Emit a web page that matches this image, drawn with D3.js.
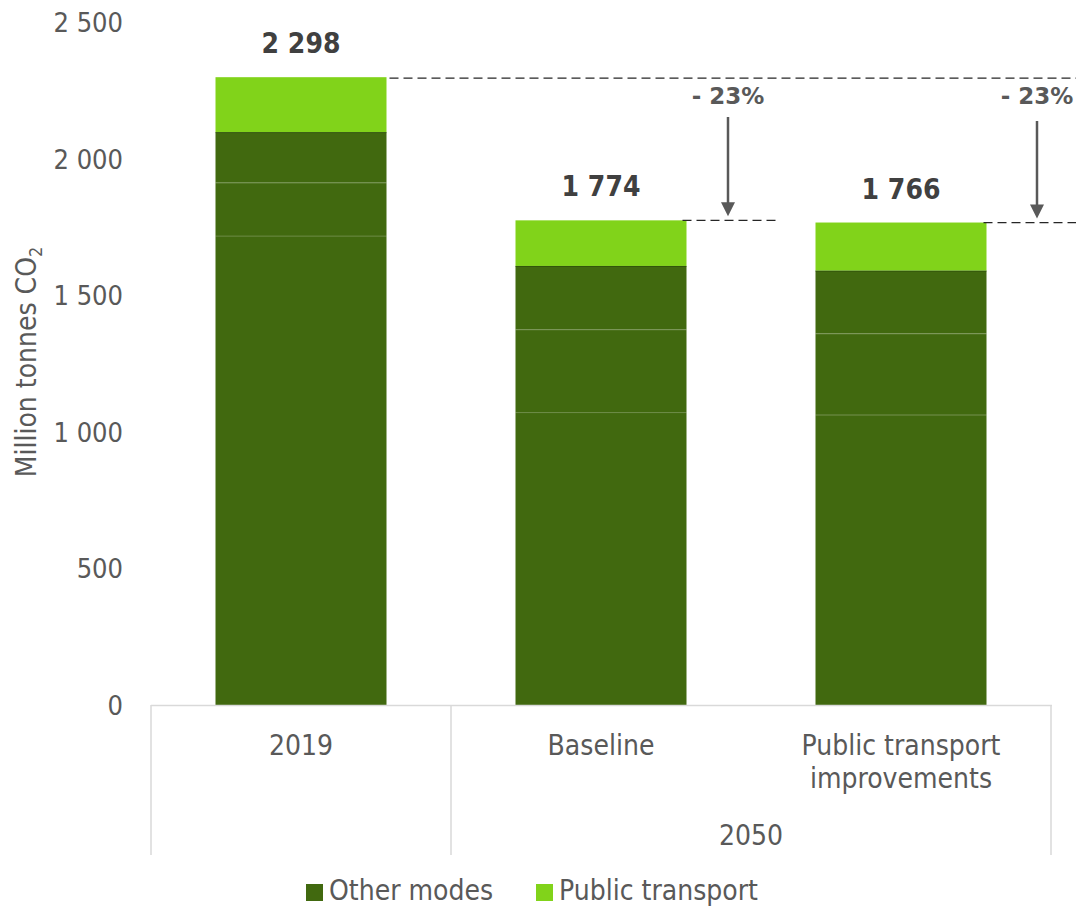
<!DOCTYPE html>
<html>
<head>
<meta charset="utf-8">
<script src="https://cdn.jsdelivr.net/npm/d3@7"></script>
<style>
  html, body { margin: 0; padding: 0; background: #fff; }
  svg { display: block; }
  text { font-family: "DejaVu Sans Condensed", "DejaVu Sans", sans-serif; font-stretch: condensed; }
</style>
</head>
<body>
<svg id="chart" width="1076" height="907"></svg>
<script>
// ---- data ----
const categories = ["2019", "Baseline", "Public transport improvements"];
const categoryLines = [["2019"], ["Baseline"], ["Public transport", "improvements"]];
const groupLabel = "2050";
const otherModesA = [1717, 1072, 1062];
const otherModesB = [195, 303, 298];
const otherModesC = [185, 232, 230];
const publicTransport = [201, 167, 176];
const totals = [2298, 1774, 1766];
const totalLabels = ["2 298", "1 774", "1 766"];
const changeLabels = ["- 23%", "- 23%"];
const yTicks = [0, 500, 1000, 1500, 2000, 2500];
const legendLabels = ["Other modes", "Public transport"];

const darkGreen = "#41690f";
const lightGreen = "#81d31a";
const textGrey = "#595959";

const svg = d3.select("#chart");
const fmt = v => d3.format(",")(v).replace(/,/g, " ");

const y = d3.scaleLinear().domain([0, 2500]).range([705, 22]);
const x = d3.scaleBand().domain(categories).range([151, 1051]).paddingInner(0.43).paddingOuter(0.215);

// stacked data
const rows = categories.map((c, i) => ({
  cat: c, a: otherModesA[i], b: otherModesB[i], c: otherModesC[i], pt: publicTransport[i]
}));
const stack = d3.stack().keys(["a", "b", "c", "pt"]);
const series = stack(rows);
const colorOf = k => k === "pt" ? lightGreen : darkGreen;

series.forEach(s => {
  svg.append("g").selectAll("rect").data(s).join("rect")
    .attr("x", d => x(d.data.cat))
    .attr("y", d => y(d[1]))
    .attr("width", x.bandwidth())
    .attr("height", d => y(d[0]) - y(d[1]))
    .attr("fill", colorOf(s.key));
});
// faint separators between segments
series.slice(1).forEach(s => {
  svg.append("g").selectAll("line").data(s).join("line")
    .attr("x1", d => x(d.data.cat)).attr("x2", d => x(d.data.cat) + x.bandwidth())
    .attr("y1", d => y(d[0]) + 0.5).attr("y2", d => y(d[0]) + 0.5)
    .attr("stroke", s.key === "pt" ? "rgba(40,70,10,0.6)" : "rgba(255,255,255,0.16)")
    .attr("stroke-width", 1);
});

// y axis (labels only)
const yAxis = d3.axisLeft(y).tickValues(yTicks).tickFormat(fmt).tickSize(0).tickPadding(0);
const yg = svg.append("g").attr("transform", "translate(123,0)").call(yAxis);
yg.select(".domain").remove();
yg.selectAll("text").attr("fill", textGrey).style("font-size", "27px")
  .style("font-family", '"DejaVu Sans Condensed", "DejaVu Sans", sans-serif').attr("dy", "0.35em");

// y title
const yt = svg.append("text")
  .attr("transform", "translate(36,362) rotate(-90)")
  .attr("text-anchor", "middle")
  .attr("fill", textGrey)
  .style("font-size", "28px");
yt.append("tspan").text("Million tonnes CO");
yt.append("tspan").text("2").attr("dy", "6").style("font-size", "18px");

// x axis frame
const axisColor = "#d9d9d9";
svg.append("line").attr("x1", 151).attr("x2", 1052).attr("y1", y(0) + 0.5).attr("y2", y(0) + 0.5)
  .attr("stroke", axisColor).attr("stroke-width", 1.5);
const sepXs = [x.range()[0], x(categories[1]) - (x.step() - x.bandwidth()) / 2, x.range()[1]];
sepXs.forEach(sx => {
  svg.append("line").attr("x1", sx).attr("x2", sx).attr("y1", y(0)).attr("y2", 855)
    .attr("stroke", axisColor).attr("stroke-width", 1.5);
});

// category labels
categories.forEach((c, i) => {
  const cx = x(c) + x.bandwidth() / 2;
  categoryLines[i].forEach((ln, j) => {
    svg.append("text").attr("x", cx).attr("y", 755 + j * 33)
      .attr("text-anchor", "middle").attr("fill", textGrey)
      .style("font-size", "28px").text(ln);
  });
});
svg.append("text").attr("x", (sepXs[1] + sepXs[2]) / 2).attr("y", 845)
  .attr("text-anchor", "middle").attr("fill", textGrey).style("font-size", "28px").text(groupLabel);

// total labels
categories.forEach((c, i) => {
  svg.append("text").attr("x", x(c) + x.bandwidth() / 2).attr("y", y(totals[i]) - 24)
    .attr("text-anchor", "middle").attr("fill", "#404040")
    .style("font-size", "28px").style("font-weight", "bold").text(totalLabels[i]);
});

// dashed reference lines
const dashStyle = sel => sel.attr("stroke", "#262626").attr("stroke-width", 1.3).attr("stroke-dasharray", "9,5");
const barRight = i => x(categories[i]) + x.bandwidth();
svg.append("line").attr("x1", barRight(0) + 3).attr("x2", 1076).attr("y1", y(totals[0]) + 1).attr("y2", y(totals[0]) + 1).call(dashStyle);
svg.append("line").attr("x1", barRight(1) - 4).attr("x2", 777).attr("y1", y(totals[1])).attr("y2", y(totals[1])).call(dashStyle);
svg.append("line").attr("x1", barRight(2) - 3).attr("x2", 1076).attr("y1", y(totals[2])).attr("y2", y(totals[2])).call(dashStyle);

// arrows
const arrowColor = "#595959";
const arrows = [{ ax: 728, y0: 117, idx: 1 }, { ax: 1037, y0: 121, idx: 2 }];
arrows.forEach((a, k) => {
  const tip = y(totals[a.idx]) - 4;
  svg.append("line").attr("x1", a.ax).attr("x2", a.ax).attr("y1", a.y0).attr("y2", tip - 12)
    .attr("stroke", arrowColor).attr("stroke-width", 2.5);
  svg.append("path").attr("d", `M${a.ax - 7},${tip - 14} L${a.ax + 7},${tip - 14} L${a.ax},${tip} Z`)
    .attr("fill", arrowColor);
  svg.append("text").attr("x", a.ax).attr("y", 104).attr("text-anchor", "middle")
    .attr("fill", arrowColor).style("font-size", "23px").style("font-weight", "bold")
    .style("font-family", '"DejaVu Sans", sans-serif').style("font-stretch", "normal")
    .text(changeLabels[k]);
});

// legend
const legendX = [306, 536];
legendLabels.forEach((l, i) => {
  svg.append("rect").attr("x", legendX[i]).attr("y", 884).attr("width", 17).attr("height", 17)
    .attr("fill", i === 0 ? darkGreen : lightGreen);
  svg.append("text").attr("x", legendX[i] + 23).attr("y", 900).attr("fill", textGrey)
    .style("font-size", "28px").text(l);
});
</script>
</body>
</html>
